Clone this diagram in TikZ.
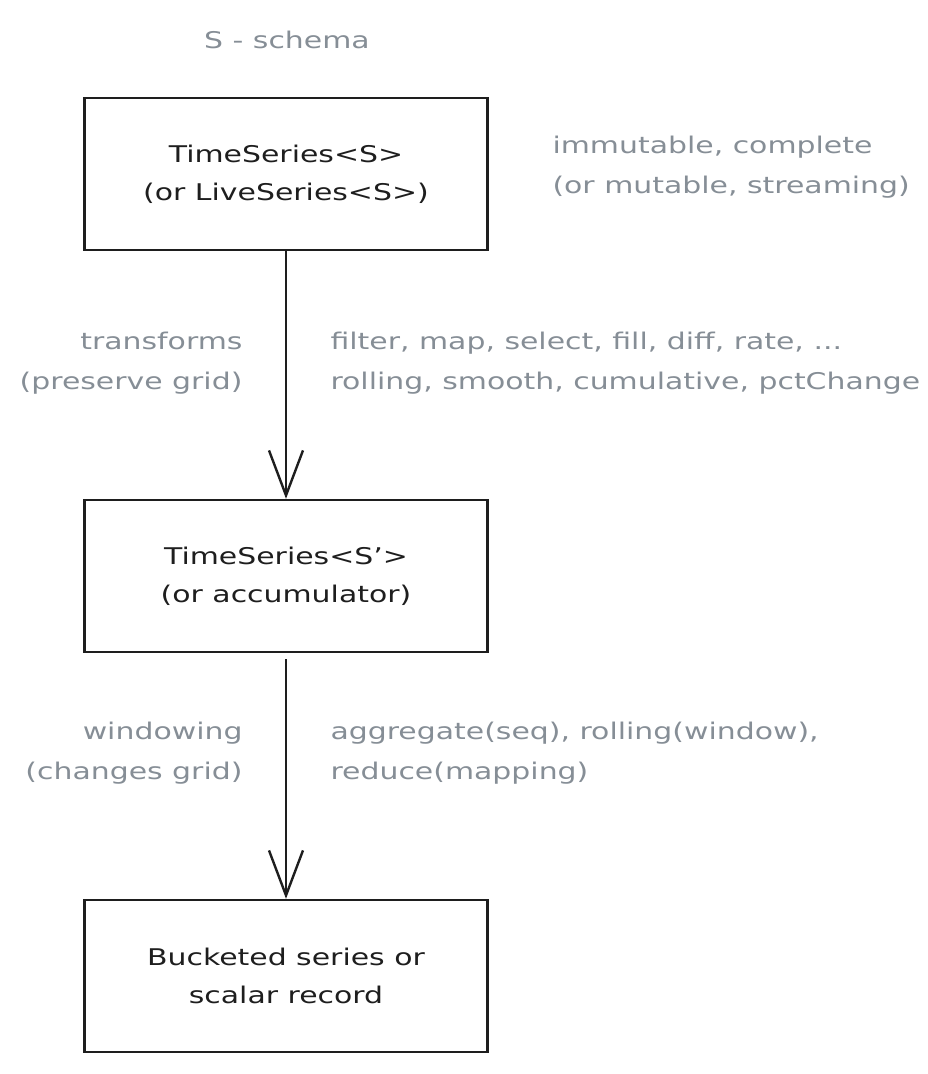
\documentclass[tikz,border=0pt]{standalone}
\usepackage{fontspec}
\setmainfont{DejaVu Sans}[FakeStretch=1.3]
\usetikzlibrary{arrows.meta}
\definecolor{ink}{HTML}{1E1E1E}
\definecolor{notegray}{HTML}{868E96}

\begin{document}
\begin{tikzpicture}[x=1pt,y=-1pt,
	box/.style={draw=ink, line width=2.4pt, minimum width=403pt, minimum height=152pt,
		align=center, text=ink, font=\fontsize{23}{38}\selectfont},
	note/.style={text=notegray, font=\fontsize{23}{40}\selectfont},
	flow/.style={draw=ink, line width=2.4pt,
		-{Straight Barb[length=45pt, width=34pt, line width=2.4pt]}}]
	\useasboundingbox (0,0) rectangle (928,1074);
	
	% the three stages, top to bottom
	\foreach \name/\y/\text in
	{series/174/{TimeSeries<S>\\(or LiveSeries<S>)},
		derived/576/{TimeSeries<S’>\\(or accumulator)},
		bucketed/976/{Bucketed series or\\scalar record}}{
		\node[box] (\name) at (286,\y) {\text};
	}
	
	% notes
	\node[note] (legend) at (287,40) {S - schema};
	\node[note, anchor=west, align=left] (state) at (549,167)
	{immutable, complete\\(or mutable, streaming)};
	\foreach \name/\y/\lefttext/\righttext in
	{transforms/363/{transforms\\(preserve grid)}/{filter, map, select, fill, diff, rate, ...\\rolling, smooth, cumulative, pctChange},
		windowing/753/{windowing\\(changes grid)}/{aggregate(seq), rolling(window),\\reduce(mapping)}}{
		\node[note, anchor=east, align=right] (\name) at (246,\y) {\lefttext};
		\node[note, anchor=west, align=left] (\name ops) at (327,\y) {\righttext};
	}
	
	% edges
	\draw[flow] (series.south) -- (derived.north);
	\draw[flow, shorten <=6pt] (derived.south) -- (bucketed.north);
\end{tikzpicture}
\end{document}
